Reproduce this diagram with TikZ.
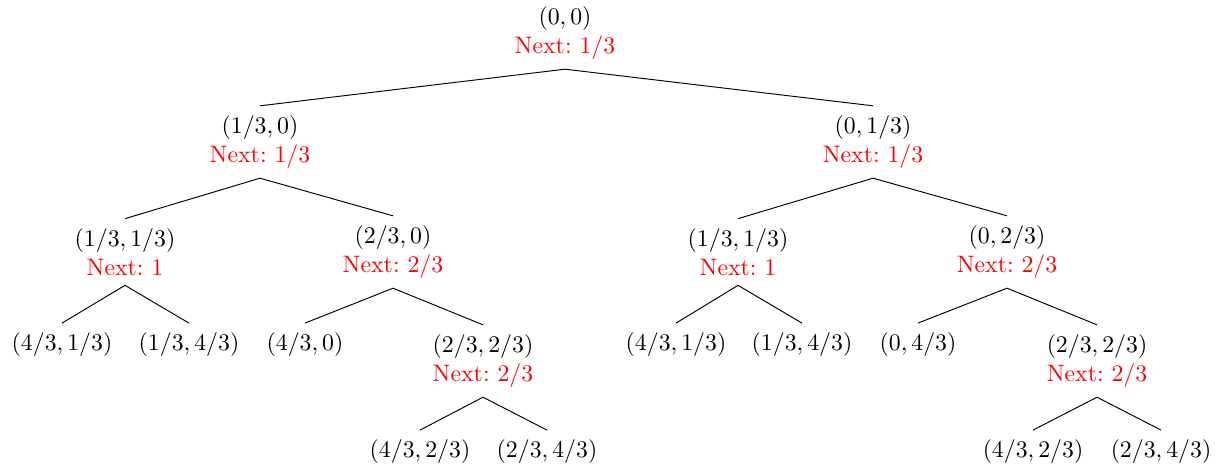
\documentclass[tikz,border=0pt]{standalone}
\usepackage{tikz}
\tikzstyle{state} = [align=center, inner sep=4pt]
\tikzstyle{leaf} = [inner sep=4pt]
\newcommand{\nxt}[1]{\textcolor{red}{Next:\ #1}}

\begin{document}
\begin{tikzpicture}[x=0.42pt, y=-0.42pt]
        \useasboundingbox (0,0) rectangle (1227,472);
        % root
        \node[state] (root) at (565,33) {$(0,0)$\\ \nxt{1/3}};
        % first level
        \node[state] (a) at (260,142) {$(1/3,0)$\\ \nxt{1/3}};
        \node[state] (b) at (873,142) {$(0,1/3)$\\ \nxt{1/3}};
        % second level
        \node[state] (aa) at (125,252) {$(1/3,1/3)$\\ \nxt{1}};
        \node[state] (ab) at (393,252) {$(2/3,0)$\\ \nxt{2/3}};
        \node[state] (ba) at (738,252) {$(1/3,1/3)$\\ \nxt{1}};
        \node[state] (bb) at (1007,252) {$(0,2/3)$\\ \nxt{2/3}};
        % third level
        \node[leaf] (aaa) at (62,345) {$(4/3,1/3)$};
        \node[leaf] (aab) at (189,345) {$(1/3,4/3)$};
        \node[leaf] (aba) at (305,345) {$(4/3,0)$};
        \node[state] (abb) at (483,361) {$(2/3,2/3)$\\ \nxt{2/3}};
        \node[leaf] (baa) at (676,345) {$(4/3,1/3)$};
        \node[leaf] (bab) at (802,345) {$(1/3,4/3)$};
        \node[leaf] (bba) at (918,345) {$(0,4/3)$};
        \node[state] (bbb) at (1097,361) {$(2/3,2/3)$\\ \nxt{2/3}};
        % fourth level
        \node[leaf] (abba) at (420,452) {$(4/3,2/3)$};
        \node[leaf] (abbb) at (547,452) {$(2/3,4/3)$};
        \node[leaf] (bbba) at (1033,452) {$(4/3,2/3)$};
        \node[leaf] (bbbb) at (1161,452) {$(2/3,4/3)$};

        \draw (root.south) -- (a.north);
        \draw (root.south) -- (b.north);
        \draw (a.south) -- (aa.north);
        \draw (a.south) -- (ab.north);
        \draw (b.south) -- (ba.north);
        \draw (b.south) -- (bb.north);
        \draw (aa.south) -- (aaa.north);
        \draw (aa.south) -- (aab.north);
        \draw (ab.south) -- (aba.north);
        \draw (ab.south) -- (abb.north);
        \draw (ba.south) -- (baa.north);
        \draw (ba.south) -- (bab.north);
        \draw (bb.south) -- (bba.north);
        \draw (bb.south) -- (bbb.north);
        \draw (abb.south) -- (abba.north);
        \draw (abb.south) -- (abbb.north);
        \draw (bbb.south) -- (bbba.north);
        \draw (bbb.south) -- (bbbb.north);
    \end{tikzpicture}
\end{document}
